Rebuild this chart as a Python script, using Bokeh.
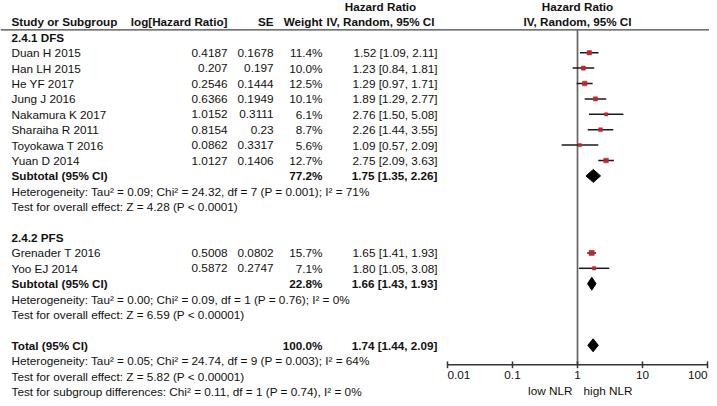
from bokeh.plotting import figure
from bokeh.models import Range1d, LogScale, ColumnDataSource
from bokeh.embed import file_html
from bokeh.resources import INLINE
from bokeh.core.properties import value

# ---------------- data ----------------
dfs_label = "2.4.1 DFS"
dfs_names = ["Duan H 2015", "Han LH 2015", "He YF 2017", "Jung J 2016",
             "Nakamura K 2017", "Sharaiha R 2011", "Toyokawa T 2016", "Yuan D 2014"]
dfs_loghr = [0.4187, 0.207, 0.2546, 0.6366, 1.0152, 0.8154, 0.0862, 1.0127]
dfs_se = [0.1678, 0.197, 0.1444, 0.1949, 0.3111, 0.23, 0.3317, 0.1406]
dfs_weight = [11.4, 10.0, 12.5, 10.1, 6.1, 8.7, 5.6, 12.7]
dfs_hr = [1.52, 1.23, 1.29, 1.89, 2.76, 2.26, 1.09, 2.75]
dfs_lo = [1.09, 0.84, 0.97, 1.29, 1.50, 1.44, 0.57, 2.09]
dfs_hi = [2.11, 1.81, 1.71, 2.77, 5.08, 3.55, 2.09, 3.63]
dfs_sub_weight = 77.2
dfs_sub_hr = [1.75, 1.35, 2.26]
dfs_notes = ["Heterogeneity: Tau\u00b2 = 0.09; Chi\u00b2 = 24.32, df = 7 (P = 0.001); I\u00b2 = 71%",
             "Test for overall effect: Z = 4.28 (P < 0.0001)"]

pfs_label = "2.4.2 PFS"
pfs_names = ["Grenader T 2016", "Yoo EJ 2014"]
pfs_loghr = [0.5008, 0.5872]
pfs_se = [0.0802, 0.2747]
pfs_weight = [15.7, 7.1]
pfs_hr = [1.65, 1.80]
pfs_lo = [1.41, 1.05]
pfs_hi = [1.93, 3.08]
pfs_sub_weight = 22.8
pfs_sub_hr = [1.66, 1.43, 1.93]
pfs_notes = ["Heterogeneity: Tau\u00b2 = 0.00; Chi\u00b2 = 0.09, df = 1 (P = 0.76); I\u00b2 = 0%",
             "Test for overall effect: Z = 6.59 (P < 0.00001)"]

total_weight = 100.0
total_hr = [1.74, 1.44, 2.09]
total_notes = ["Heterogeneity: Tau\u00b2 = 0.05; Chi\u00b2 = 24.74, df = 9 (P = 0.003); I\u00b2 = 64%",
               "Test for overall effect: Z = 5.82 (P < 0.00001)",
               "Test for subgroup differences: Chi\u00b2 = 0.11, df = 1 (P = 0.74), I\u00b2 = 0%"]

axis_ticks = [0.01, 0.1, 1, 10, 100]
axis_tick_labels = ["0.01", "0.1", "1", "10", "100"]
favours_left = "low NLR"
favours_right = "high NLR"

col_headers = ["Study or Subgroup", "log[Hazard Ratio]", "SE", "Weight"]
hr_header = ["Hazard Ratio", "IV, Random, 95% CI"]

# ---------------- layout ----------------
W, H = 709, 398
ROW0_PX = 6.0
ROW_PX = 15.4
ONE_PX = 577.0
DECADE_PX = 65.0
FONT = value("Liberation Sans")
RED = "#c0272d"
TXT = "#111111"
REG = "11.75px"
BOLD = "11.7px"


def prow(px):
    return (px - ROW0_PX) / ROW_PX


p = figure(width=W, height=H, output_backend="svg", toolbar_location=None,
           x_range=Range1d(0, W),
           y_range=Range1d(prow(H), prow(0)),
           x_axis_location=None, y_axis_location=None, min_border=0,
           outline_line_color=None, background_fill_color="white",
           border_fill_color="white")
p.grid.visible = False
p.extra_x_ranges = {"hr": Range1d(10 ** (-ONE_PX / DECADE_PX), 10 ** ((W - ONE_PX) / DECADE_PX))}
p.extra_x_scales = {"hr": LogScale()}

X_NAME, X_LOG, X_SE, X_W, X_CI, X_HRHEAD = 11, 227, 273, 322, 437, 380

texts = {}


def t(x, y, s, align="left", bold=False, rng="default"):
    key = (align, bold, rng)
    d = texts.setdefault(key, {"x": [], "y": [], "text": []})
    d["x"].append(x)
    d["y"].append(y)
    d["text"].append(s)


def ci_str(v):
    return f"{v[0]:.2f} [{v[1]:.2f}, {v[2]:.2f}]"


# headers
t(X_HRHEAD, 0, hr_header[0], "center", True)
t(1, 0, hr_header[0], "center", True, "hr")
t(X_NAME, 1, col_headers[0], "left", True)
t(X_LOG, 1, col_headers[1], "right", True)
t(X_SE, 1, col_headers[2], "right", True)
t(X_W, 1, col_headers[3], "right", True)
t(X_HRHEAD, 1, hr_header[1], "center", True)
t(1, 1, hr_header[1], "center", True, "hr")

study_rows, study_hr, study_lo, study_hi, study_w = [], [], [], [], []
diamonds = []


def group(label, names, loghr, se, w, hr, lo, hi, sub_w, sub_hr, notes, start):
    r = start
    t(X_NAME, r, label, "left", True)
    r += 1
    for i in range(len(names)):
        t(X_NAME, r, names[i])
        t(X_LOG, r, str(loghr[i]), "right")
        t(X_SE, r, str(se[i]), "right")
        t(X_W, r, f"{w[i]:.1f}%", "right")
        t(X_CI, r, ci_str([hr[i], lo[i], hi[i]]), "right")
        study_rows.append(r)
        study_hr.append(hr[i])
        study_lo.append(lo[i])
        study_hi.append(hi[i])
        study_w.append(w[i])
        r += 1
    t(X_NAME, r, "Subtotal (95% CI)", "left", True)
    t(X_W, r, f"{sub_w:.1f}%", "right", True)
    t(X_CI, r, ci_str(sub_hr), "right", True)
    diamonds.append((r, sub_hr))
    r += 1
    for n in notes:
        t(X_NAME, r, n)
        r += 1
    return r + 1


row = 2
row = group(dfs_label, dfs_names, dfs_loghr, dfs_se, dfs_weight, dfs_hr, dfs_lo, dfs_hi,
            dfs_sub_weight, dfs_sub_hr, dfs_notes, row)
row = group(pfs_label, pfs_names, pfs_loghr, pfs_se, pfs_weight, pfs_hr, pfs_lo, pfs_hi,
            pfs_sub_weight, pfs_sub_hr, pfs_notes, row)
total_row = row
t(X_NAME, row, "Total (95% CI)", "left", True)
t(X_W, row, f"{total_weight:.1f}%", "right", True)
t(X_CI, row, ci_str(total_hr), "right", True)
diamonds.append((row, total_hr))
row += 1
for n in total_notes:
    t(X_NAME, row, n)
    row += 1

# ---------------- lines ----------------
HEAD_LINE = prow(29.3)
AXIS_Y = prow(364.3)

p.segment(x0=[0], x1=[W], y0=[HEAD_LINE], y1=[HEAD_LINE], line_color="#444444", line_width=1.3)
p.segment(x0=[1], x1=[1], y0=[HEAD_LINE], y1=[AXIS_Y], line_color="#666666", line_width=1.7,
          x_range_name="hr")

# CI lines and squares
src = ColumnDataSource(dict(y=study_rows, hr=study_hr, lo=study_lo, hi=study_hi,
                            size=[1.3 * (w ** 0.5) for w in study_w]))
p.segment(x0="lo", x1="hi", y0="y", y1="y", source=src, line_color="#1a1a1a",
          line_width=1.5, x_range_name="hr")
p.scatter(x="hr", y="y", size="size", marker="square", source=src, fill_color=RED,
          line_color=RED, line_width=0.5, x_range_name="hr")

# diamonds
DH = 0.42
dxs, dys = [], []
for r, v in diamonds:
    dxs.append([v[1], v[0], v[2], v[0]])
    dys.append([r, r - DH, r, r + DH])
p.patches(xs=dxs, ys=dys, fill_color="black", line_color="black", line_width=1,
          x_range_name="hr")

# forest axis
TK = 0.22
p.segment(x0=[axis_ticks[0]], x1=[axis_ticks[-1]], y0=[AXIS_Y], y1=[AXIS_Y],
          line_color="#333333", line_width=1.5, x_range_name="hr")
p.segment(x0=axis_ticks, x1=axis_ticks, y0=[AXIS_Y - TK] * len(axis_ticks),
          y1=[AXIS_Y + TK] * len(axis_ticks), line_color="#333333", line_width=1.5,
          x_range_name="hr")
LAB_Y = prow(374.5)
for i, (tv, tl) in enumerate(zip(axis_ticks, axis_tick_labels)):
    al = "left" if i == 0 else ("right" if i == len(axis_ticks) - 1 else "center")
    t(tv, LAB_Y, tl, al, False, "hr")

NLR_Y = prow(390)
p.text(x=[1], y=[NLR_Y], text=[favours_left], x_offset=-5, text_align="right",
       text_baseline="middle", text_font=FONT, text_font_size=REG, text_color=TXT,
       x_range_name="hr")
p.text(x=[1], y=[NLR_Y], text=[favours_right], x_offset=6, text_align="left",
       text_baseline="middle", text_font=FONT, text_font_size=REG, text_color=TXT,
       x_range_name="hr")

# ---------------- texts ----------------
for (align, bold, rng), d in texts.items():
    kw = {}
    if rng != "default":
        kw["x_range_name"] = rng
    p.text(x="x", y="y", text="text", source=ColumnDataSource(d), text_align=align,
           text_baseline="middle", text_font=FONT, text_font_size=BOLD if bold else REG,
           text_font_style="bold" if bold else "normal", text_color=TXT, **kw)

open("out.html", "w").write(file_html(p, INLINE))
